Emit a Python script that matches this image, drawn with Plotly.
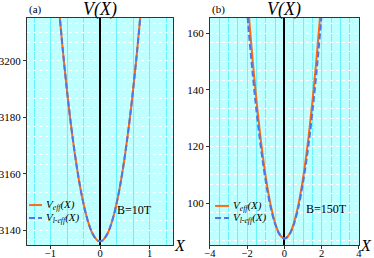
import plotly.graph_objects as go

# ---------------- data ----------------
# panel (a): B = 10 T
xa = [-0.84, -0.75, -0.65, -0.55, -0.45, -0.35, -0.25, -0.15, -0.05, 0.0,
      0.05, 0.15, 0.25, 0.35, 0.45, 0.55, 0.65, 0.75, 0.84]
va_eff = [3220.7, 3203.5, 3186.7, 3172.3, 3160.3, 3150.7, 3143.5, 3138.7, 3136.3, 3136.0,
          3136.3, 3138.7, 3143.5, 3150.7, 3160.3, 3172.3, 3186.7, 3203.5, 3220.7]
va_leff = [3220.9, 3203.6, 3186.8, 3172.4, 3160.3, 3150.7, 3143.5, 3138.7, 3136.3, 3136.0,
           3136.3, 3138.7, 3143.5, 3150.7, 3160.3, 3172.4, 3186.8, 3203.6, 3220.9]

# panel (b): B = 150 T
xb = [-2.1, -1.9, -1.7, -1.5, -1.3, -1.1, -0.9, -0.7, -0.5, -0.3, -0.1, 0.0,
      0.1, 0.3, 0.5, 0.7, 0.9, 1.1, 1.3, 1.5, 1.7, 1.9, 2.1]
vb_eff = [182.3, 165.1, 149.6, 135.9, 123.8, 113.5, 104.9, 98.0, 92.9, 89.4, 87.7, 87.5,
          87.7, 89.4, 92.9, 98.0, 104.9, 113.5, 123.8, 135.9, 149.6, 165.1, 182.3]
vb_leff = [175.2, 159.3, 145.0, 132.2, 121.1, 111.6, 103.6, 97.2, 92.5, 89.3, 87.7, 87.5,
           87.7, 89.3, 92.5, 97.2, 103.6, 111.6, 121.1, 132.2, 145.0, 159.3, 175.2]

xa_ticks = [-1, 0, 1]
ya_ticks = [3140, 3160, 3180, 3200]
xb_ticks = [-4, -2, 0, 2, 4]
yb_ticks = [100, 120, 140, 160]

panel_labels = ["(a)", "(b)"]
field_labels = ["B=10T", "B=150T"]
name_eff = "<i>V</i><sub><i>eff</i></sub><i>(X)</i>"
name_leff = "<i>V</i><sub><i>l-eff</i></sub><i>(X)</i>"

# ---------------- style ----------------
FONT = "Liberation Serif, Times New Roman, serif"
ORANGE = "#ff6a12"
BLUE = "#4a78e8"
BG = "#c0ffff"
VGRID = "#66f4ff"
DASH = "6px,3px"

fig = go.Figure()

fig.add_trace(go.Scatter(x=xa, y=va_eff, mode="lines", name=name_eff, showlegend=False,
                         line=dict(color=ORANGE, width=2, shape="spline"),
                         xaxis="x", yaxis="y"))
fig.add_trace(go.Scatter(x=xa, y=va_leff, mode="lines", name=name_leff, showlegend=False,
                         line=dict(color=BLUE, width=2, dash=DASH, shape="spline"),
                         xaxis="x", yaxis="y"))
fig.add_trace(go.Scatter(x=xb, y=vb_eff, mode="lines", name=name_eff, showlegend=False,
                         line=dict(color=ORANGE, width=2, shape="spline"),
                         xaxis="x2", yaxis="y2"))
fig.add_trace(go.Scatter(x=xb, y=vb_leff, mode="lines", name=name_leff, showlegend=False,
                         line=dict(color=BLUE, width=2, dash=DASH, shape="spline"),
                         xaxis="x2", yaxis="y2"))

common_x = dict(showline=True, linecolor="#333333", linewidth=1, mirror=True,
                ticks="outside", ticklen=3, tickcolor="#333333", automargin=False,
                ticklabelstandoff=-5,
                zeroline=True, zerolinecolor="black", zerolinewidth=1.5,
                showgrid=True, gridcolor=VGRID, gridwidth=1,
                tickfont=dict(family=FONT, size=10.5, color="black"))
common_y = dict(showline=True, linecolor="#333333", linewidth=1, mirror=True,
                ticks="outside", ticklen=3, tickcolor="#333333", automargin=False,
                zeroline=False,
                showgrid=True, gridcolor="white", gridwidth=1, griddash="dot",
                tickfont=dict(family=FONT, size=11, color="black"))

fig.update_layout(
    width=374, height=258,
    margin=dict(l=27, r=15, t=18, b=13, autoexpand=False),
    paper_bgcolor="white", plot_bgcolor=BG,
    font=dict(family=FONT, size=11, color="black"),
    showlegend=False,
    xaxis=dict(domain=[0, 0.4398], range=[-1.475, 1.475], tickvals=xa_ticks,
               minor=dict(dtick=1/3, tick0=0, showgrid=True, gridcolor=VGRID, ticklen=0),
               anchor="y", **common_x),
    yaxis=dict(range=[3134.7, 3215.2], tickvals=ya_ticks,
               minor=dict(dtick=20/6, tick0=3140, showgrid=True, gridcolor="white",
                          griddash="dot", ticklen=0),
               anchor="x", **common_y),
    xaxis2=dict(domain=[0.5512, 1], range=[-4, 4], tickvals=xb_ticks,
                minor=dict(dtick=0.5, tick0=0, showgrid=True, gridcolor=VGRID, ticklen=0),
                anchor="y2", **common_x),
    yaxis2=dict(range=[85.2, 165.3], tickvals=yb_ticks,
                minor=dict(dtick=20/6, tick0=100, showgrid=True, gridcolor="white",
                           griddash="dot", ticklen=0),
                anchor="x2", **common_y),
)

annotations = []
shapes = []
legend_pos = [  # (line x0, line x1, text x, row1 y, row2 y) in axis-domain fractions
    (0.014, 0.103, 0.118, 0.176, 0.119),
    (0.034, 0.128, 0.141, 0.172, 0.119),
]
for i, (xr, yr) in enumerate([("x", "y"), ("x2", "y2")]):
    annotations.append(dict(text="<i>V(X)</i>", xref=xr, x=0, yref=f"{yr} domain", y=1,
                            xanchor="center", yanchor="bottom", showarrow=False, yshift=-4,
                            font=dict(family=FONT, size=18)))
    annotations.append(dict(text=panel_labels[i], xref=f"{xr} domain", x=0,
                            yref=f"{yr} domain", y=1, xanchor="left", yanchor="bottom",
                            showarrow=False, yshift=0, font=dict(family=FONT, size=11)))
    annotations.append(dict(text="<i>X</i>", xref=f"{xr} domain", x=1,
                            yref=f"{yr} domain", y=0, xanchor="center", yanchor="middle",
                            showarrow=False, xshift=7, font=dict(family=FONT, size=16)))
    lx0, lx1, tx, r1, r2 = legend_pos[i]
    for (ry, nm, col, dsh) in [(r1, name_eff, ORANGE, "solid"), (r2, name_leff, BLUE, DASH)]:
        shapes.append(dict(type="line", xref=f"{xr} domain", yref=f"{yr} domain",
                           x0=lx0, x1=lx1, y0=ry, y1=ry,
                           line=dict(color=col, width=2, dash=dsh)))
        annotations.append(dict(text=nm, xref=f"{xr} domain", x=tx, yref=f"{yr} domain",
                                y=ry, xanchor="left", yanchor="middle", showarrow=False,
                                font=dict(family=FONT, size=11)))
annotations.append(dict(text=field_labels[0], xref="x", x=0.69, yref="y", y=3147,
                        xanchor="center", yanchor="middle", showarrow=False,
                        font=dict(family=FONT, size=12)))
annotations.append(dict(text=field_labels[1], xref="x2", x=2.24, yref="y2", y=97.9,
                        xanchor="center", yanchor="middle", showarrow=False,
                        font=dict(family=FONT, size=12)))
fig.update_layout(annotations=annotations, shapes=shapes)

fig.write_html("out.html", config={"displayModeBar": False},
               post_script="document.body.style.margin='0';document.body.style.overflow='hidden';")
